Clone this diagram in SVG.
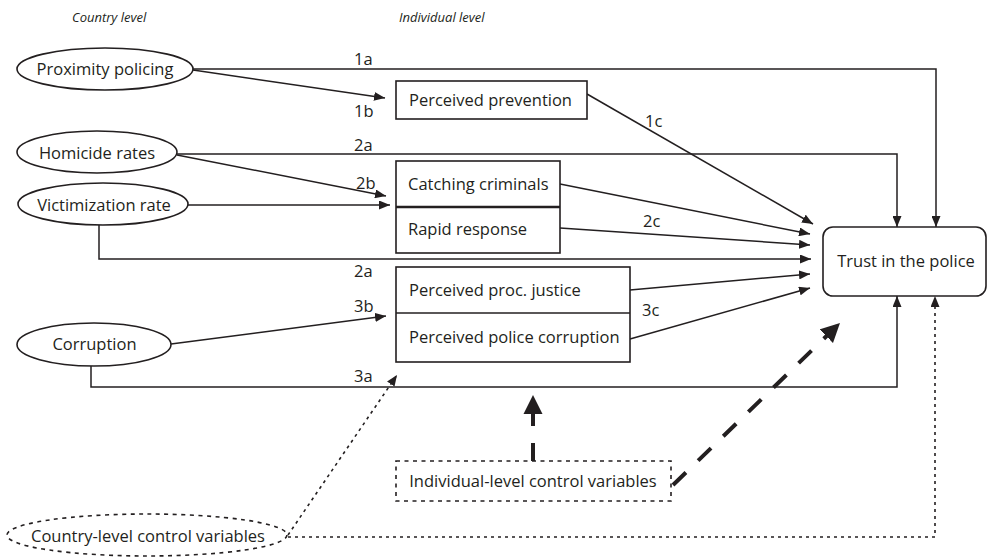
<svg xmlns="http://www.w3.org/2000/svg" width="988" height="557" viewBox="0 0 988 557">
<defs>
<style>
text{font-family:"Open Sans","Liberation Sans",sans-serif;font-size:16.5px;fill:#231f20}
.hdr{font-size:13px;font-style:italic}
.mid{text-anchor:middle}
.node{fill:#fff;stroke:#231f20;stroke-width:1.6}
.dash{fill:none;stroke:#231f20;stroke-width:1.6;stroke-dasharray:4 4.5}
.c{fill:none;stroke:#231f20;stroke-width:1.5}
.dot{fill:none;stroke:#231f20;stroke-width:1.6;stroke-dasharray:3 4}
.thick{fill:none;stroke:#231f20;stroke-width:4;stroke-dasharray:18 17}
</style>
<marker id="a" markerUnits="userSpaceOnUse" markerWidth="11" markerHeight="9" refX="11" refY="4.5" orient="auto">
<path d="M0,0 L11,4.5 L0,9 z" fill="#231f20"/>
</marker>
<marker id="A" markerUnits="userSpaceOnUse" markerWidth="20" markerHeight="20" refX="19" refY="10" orient="auto">
<path d="M0,0.5 L19,10 L0,19.5 z" fill="#231f20"/>
</marker>
</defs>
<rect width="988" height="557" fill="#fff"/>
<text class="hdr" x="72" y="22">Country level</text>
<text class="hdr" x="399" y="22">Individual level</text>

<g id="connectors">
<path class="c" d="M193,69 H936 V227" marker-end="url(#a)"/>
<path class="c" d="M193,70 L385,98" marker-end="url(#a)"/>
<path class="c" d="M587,94 L813,224" marker-end="url(#a)"/>
<path class="c" d="M177,154 H897 V227" marker-end="url(#a)"/>
<path class="c" d="M177,155 L386,196" marker-end="url(#a)"/>
<path class="c" d="M188,205 H390" marker-end="url(#a)"/>
<path class="c" d="M99,225 V259 H811" marker-end="url(#a)"/>
<path class="c" d="M560,184 L810,234" marker-end="url(#a)"/>
<path class="c" d="M560,228 L810,245" marker-end="url(#a)"/>
<path class="c" d="M630,290 L810,274" marker-end="url(#a)"/>
<path class="c" d="M630,339 L810,288" marker-end="url(#a)"/>
<path class="c" d="M171,344 L386,316" marker-end="url(#a)"/>
<path class="c" d="M91,366 V387 H897 V296" marker-end="url(#a)"/>
<path class="dot" d="M288,535 L397,375" marker-end="url(#a)"/>
<path class="dot" d="M288,537 H935 V296" marker-end="url(#a)"/>
<path class="thick" d="M533,461 V395" marker-end="url(#A)"/>
<path class="thick" d="M673,485 L840,323" marker-end="url(#A)"/>
<text x="354" y="65">1a</text>
<text x="354" y="117">1b</text>
<text x="645" y="127">1c</text>
<text x="354" y="151">2a</text>
<text x="356" y="189">2b</text>
<text x="643" y="227">2c</text>
<text x="354" y="277">2a</text>
<text x="354" y="312">3b</text>
<text x="642" y="316">3c</text>
<text x="354" y="382">3a</text>
</g>

<g id="proximity">
<ellipse class="node" cx="105" cy="69" rx="88" ry="21"/>
<text class="mid" x="105" y="75">Proximity policing</text>
</g>
<g id="homicide">
<ellipse class="node" cx="97" cy="152" rx="80" ry="21"/>
<text class="mid" x="97" y="159">Homicide rates</text>
</g>
<g id="victimization">
<ellipse class="node" cx="103" cy="204" rx="85" ry="21"/>
<text class="mid" x="104" y="211">Victimization rate</text>
</g>
<g id="corruption">
<ellipse class="node" cx="94" cy="344.5" rx="77" ry="21.5"/>
<text class="mid" x="94.5" y="350">Corruption</text>
</g>
<g id="prevention">
<rect class="node" x="396" y="81" width="191" height="38"/>
<text x="409" y="106">Perceived prevention</text>
</g>
<g id="catching-rapid">
<rect class="node" x="396" y="161" width="164" height="92"/>
<line x1="396" y1="207" x2="560" y2="207" stroke="#231f20" stroke-width="2.6"/>
<text x="408" y="190">Catching criminals</text>
<text x="408" y="235">Rapid response</text>
</g>
<g id="justice-corruption">
<rect class="node" x="396" y="267" width="234" height="95"/>
<line x1="396" y1="313" x2="630" y2="313" stroke="#231f20" stroke-width="1.6"/>
<text x="409" y="296">Perceived proc. justice</text>
<text x="409" y="343">Perceived police corruption</text>
</g>
<g id="trust">
<rect class="node" x="823" y="227" width="163" height="69" rx="10"/>
<text class="mid" x="906" y="267">Trust in the police</text>
</g>
<g id="individual-controls">
<rect class="dash" x="396" y="461" width="275" height="40"/>
<text class="mid" x="533" y="487">Individual-level control variables</text>
</g>
<g id="country-controls">
<ellipse class="dash" cx="147" cy="535" rx="140" ry="21"/>
<text class="mid" x="148" y="542">Country-level control variables</text>
</g>
</svg>
